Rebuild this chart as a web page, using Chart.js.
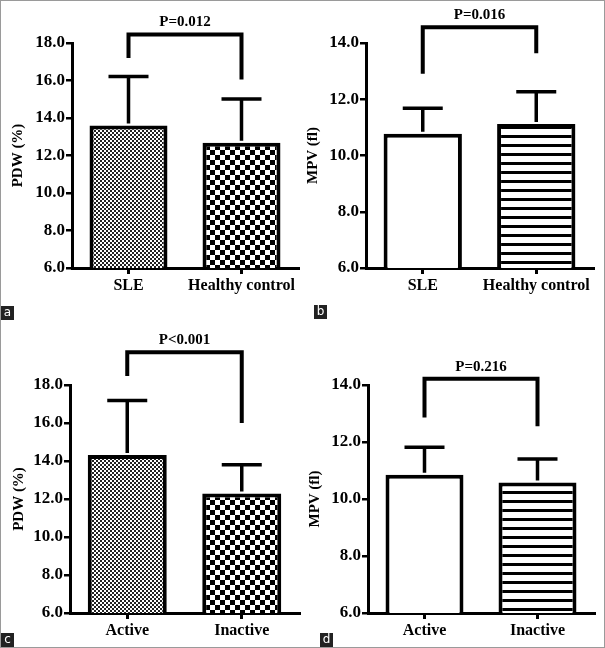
<!DOCTYPE html>
<html>
<head>
<meta charset="utf-8">
<script src="https://cdn.jsdelivr.net/npm/chart.js@4.4.0/dist/chart.umd.min.js"></script>
<style>
  body { margin: 0; background: #fff; }
  #fig { position: relative; width: 605px; height: 648px; }
  #fig canvas { position: absolute; }
  .frame { position: absolute; left: 0; top: 0; width: 603px; height: 646px; border: 1px solid #9a9a9a; }
  .tag { position: absolute; width: 13px; height: 14px; background: #222; color: #fff;
         font: 12px "DejaVu Sans", sans-serif; line-height: 13px; text-align: center; }
</style>
</head>
<body>
<div id="fig">
  <div class="frame"></div>
  <canvas id="chartA" width="304" height="320" style="left:0;top:0"></canvas>
  <canvas id="chartB" width="305" height="320" style="left:300px;top:0"></canvas>
  <canvas id="chartC" width="304" height="328" style="left:0;top:320px"></canvas>
  <canvas id="chartD" width="305" height="328" style="left:300px;top:320px"></canvas>
  <div class="tag" style="left:1px;top:306px">a</div>
  <div class="tag" style="left:314px;top:305px">b</div>
  <div class="tag" style="left:1px;top:633px">c</div>
  <div class="tag" style="left:320px;top:633px">d</div>
</div>
<script>
// Panel a: PDW, SLE vs healthy control
const groupsA = ['SLE', 'Healthy control'];
const meanA = [13.6, 12.68];
const sdA = [2.62, 2.33];
const bracketA = [18.46, 17.2, 16.06];   // top, left leg end, right leg end
const pA = 'P=0.012';

// Panel b: MPV, SLE vs healthy control
const groupsB = ['SLE', 'Healthy control'];
const meanB = [10.77, 11.12];
const sdB = [0.91, 1.15];
const bracketB = [14.56, 12.91, 13.64];
const pB = 'P=0.016';

// Panel c: PDW, active vs inactive
const groupsC = ['Active', 'Inactive'];
const meanC = [14.32, 12.29];
const sdC = [2.86, 1.51];
const bracketC = [19.72, 18.47, 16.0];
const pC = 'P<0.001';

// Panel d: MPV, active vs inactive
const groupsD = ['Active', 'Inactive'];
const meanD = [10.85, 10.58];
const sdD = [0.97, 0.82];
const bracketD = [14.22, 12.86, 12.55];
const pD = 'P=0.216';

const pdwTicks = [6, 18];
const mpvTicks = [6, 14];

const serif = '"Liberation Serif", "Times New Roman", serif';

function checker(ctx, size, dark) {
    const c = document.createElement('canvas');
    c.width = c.height = size * 2;
    const g = c.getContext('2d');
    g.fillStyle = '#fff';
    g.fillRect(0, 0, size * 2, size * 2);
    g.fillStyle = dark;
    g.fillRect(0, 0, size, size);
    g.fillRect(size, size, size, size);
    return ctx.createPattern(c, 'repeat');
}

function stripes(ctx) {
    const c = document.createElement('canvas');
    c.width = 4; c.height = 9;
    const g = c.getContext('2d');
    g.fillStyle = '#fff';
    g.fillRect(0, 0, 4, 9);
    g.fillStyle = '#000';
    g.fillRect(0, 0, 4, 3);
    return ctx.createPattern(c, 'repeat');
}

// error bars (mean + SD) and the significance bracket
const errorBracketPlugin = {
    id: 'errorBracket',
    afterDatasetsDraw(chart, args, opts) {
        const ctx = chart.ctx;
        const xs = chart.scales.x, ys = chart.scales.y;
        const means = chart.data.datasets[0].data;
        ctx.save();
        ctx.strokeStyle = '#000';
        ctx.lineWidth = 3.5;
        means.forEach((m, i) => {
            const cx = xs.getPixelForValue(i);
            const y0 = ys.getPixelForValue(m);
            const y1 = ys.getPixelForValue(m + opts.sd[i]);
            ctx.beginPath();
            ctx.moveTo(cx, y0 - 2);
            ctx.lineTo(cx, y1);
            ctx.moveTo(cx - 20, y1);
            ctx.lineTo(cx + 20, y1);
            ctx.stroke();
        });

        const xl = xs.getPixelForValue(0), xr = xs.getPixelForValue(1);
        const top = ys.getPixelForValue(opts.bracket[0]);
        ctx.lineWidth = 4;
        ctx.lineJoin = 'miter';
        ctx.beginPath();
        ctx.moveTo(xl, ys.getPixelForValue(opts.bracket[1]));
        ctx.lineTo(xl, top);
        ctx.lineTo(xr, top);
        ctx.lineTo(xr, ys.getPixelForValue(opts.bracket[2]));
        ctx.stroke();

        ctx.fillStyle = '#000';
        ctx.font = 'bold 15px ' + serif;
        ctx.textAlign = 'center';
        ctx.textBaseline = 'middle';
        ctx.fillText(opts.label, (xl + xr) / 2, top - 12);
        ctx.restore();
    }
};

function makePanel(id, p) {
    const canvas = document.getElementById(id);
    const ctx = canvas.getContext('2d');
    const fills = p.fills(ctx);
    return new Chart(ctx, {
        type: 'bar',
        data: {
            labels: p.groups,
            datasets: [{
                data: p.mean,
                backgroundColor: fills,
                borderColor: '#000',
                borderWidth: 4,
                borderSkipped: false,
                barPercentage: 0.69,
                categoryPercentage: 1.0
            }]
        },
        plugins: [errorBracketPlugin],
        options: {
            responsive: false,
            devicePixelRatio: 1,
            animation: false,
            layout: { padding: { top: p.top, right: p.right, left: 0, bottom: 0 } },
            plugins: {
                legend: { display: false },
                tooltip: { enabled: false },
                errorBracket: { sd: p.sd, bracket: p.bracket, label: p.label }
            },
            scales: {
                x: {
                    offset: true,
                    afterFit: s => { s.height = p.xh; },
                    border: { display: true, color: '#000', width: 3 },
                    grid: { offset: false, drawOnChartArea: false, color: '#000', lineWidth: 3, tickLength: 6 },
                    ticks: { color: '#000', padding: 2, font: { family: serif, size: 16, weight: 'bold' } }
                },
                y: {
                    min: p.range[0],
                    max: p.range[1],
                    afterFit: s => { s.width = p.yw; },
                    border: { display: true, color: '#000', width: 3 },
                    grid: { drawOnChartArea: false, color: '#000', lineWidth: 2.5, tickLength: 6 },
                    ticks: {
                        stepSize: 2, color: '#000', padding: 1,
                        font: { family: serif, size: 17, weight: 'bold' },
                        callback: v => Number(v).toFixed(1)
                    },
                    title: {
                        display: true, text: p.title, color: '#000',
                        padding: { top: p.tpad, bottom: 0 },
                        font: { family: serif, size: 15, weight: 'bold' }
                    }
                }
            }
        }
    });
}

const fineChecker = ctx => [checker(ctx, 2, '#222'), checker(ctx, 5, '#000')];
const whiteStripes = ctx => ['#fff', stripes(ctx)];

makePanel('chartA', { groups: groupsA, mean: meanA, sd: sdA, bracket: bracketA, label: pA,
    range: pdwTicks, title: 'PDW (%)', fills: fineChecker, top: 43, right: 6, xh: 52, yw: 72, tpad: 9 });
makePanel('chartB', { groups: groupsB, mean: meanB, sd: sdB, bracket: bracketB, label: pB,
    range: mpvTicks, title: 'MPV (fl)', fills: whiteStripes, top: 43, right: 12, xh: 52, yw: 66, tpad: 4 });
makePanel('chartC', { groups: groupsC, mean: meanC, sd: sdC, bracket: bracketC, label: pC,
    range: pdwTicks, title: 'PDW (%)', fills: fineChecker, top: 65, right: 5, xh: 35, yw: 70, tpad: 10 });
makePanel('chartD', { groups: groupsD, mean: meanD, sd: sdD, bracket: bracketD, label: pD,
    range: mpvTicks, title: 'MPV (fl)', fills: whiteStripes, top: 65, right: 11, xh: 35, yw: 68, tpad: 6 });
</script>
</body>
</html>
